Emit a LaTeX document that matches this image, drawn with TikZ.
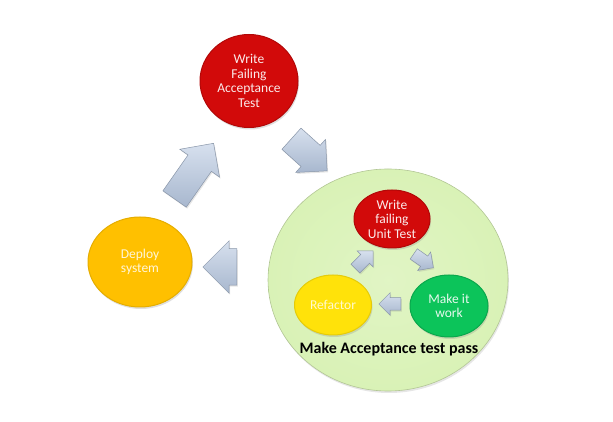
\documentclass[tikz,border=0pt]{standalone}
\usepackage{fontspec}
\setmainfont{Carlito}
\usetikzlibrary{shapes.geometric,shapes.arrows,shadows}

\definecolor{cRed}{HTML}{D20A0A}
\definecolor{cGold}{HTML}{FFC000}
\definecolor{cYellow}{HTML}{FFE20A}
\definecolor{cGreen}{HTML}{0CC45A}
\definecolor{cPale}{HTML}{D9F2B6}
\definecolor{cArrow}{HTML}{B6C7E0}

% shaft thickness of a block arrow is set by an invisible strut
\newcommand{\shaft}[1]{\rule{0pt}{#1pt}}

\tikzset{
  bubble/.style={ellipse, inner sep=0pt, align=center, font=\fontsize{13.5}{14.5}\selectfont,
    text=white, drop shadow={opacity=0.25, shadow xshift=1pt, shadow yshift=-2pt}},
  redbub/.style={bubble, fill=cRed, draw=cRed!85!black, line width=1pt, text=white!92!cRed},
  goldbub/.style={bubble, fill=cGold, draw=cGold!90!black, line width=1pt, text=white!85!cGold},
  yelbub/.style={bubble, fill=cYellow, draw=cYellow!90!black, line width=1pt, text=white!80!cYellow},
  grnbub/.style={bubble, fill=cGreen, draw=cGreen!85!black, line width=1pt, text=white!90!cGreen},
  blockarrow/.style={single arrow, inner sep=0pt, draw=cArrow!75!black, line width=0.5pt,
    top color=cArrow!55!white, bottom color=cArrow!92!black, shading angle=0,
    drop shadow={opacity=0.2, shadow xshift=1pt, shadow yshift=-1.5pt}},
}

\begin{document}
\begin{tikzpicture}[x=1pt,y=1pt]
  \useasboundingbox (0,0) rectangle (613,422);

  % outer cycle
  \node[redbub, minimum width=98, minimum height=93] (accept) at (249,341)
    {Write\\Failing\\Acceptance\\Test};
  \node[goldbub, minimum width=104, minimum height=90] (deploy) at (140,160)
    {Deploy\\system};
  \node[ellipse, minimum width=240, minimum height=222, inner sep=0pt,
    inner color=cPale!80!white, outer color=cPale, draw=cPale!82!black, line width=0.6pt,
    drop shadow={opacity=0.2, shadow xshift=1pt, shadow yshift=-2pt}] (pass) at (388,142) {};

  % inner cycle
  \node[redbub, minimum width=76, minimum height=58] (unit) at (392,203)
    {Write\\failing\\Unit Test};
  \node[yelbub, minimum width=77, minimum height=60] (refactor) at (333,117) {Refactor};
  \node[grnbub, minimum width=78, minimum height=62] (work) at (449,116) {Make it\\work};
  \node[font=\fontsize{16}{18}\selectfont\bfseries, text=black] (passlabel) at (389,73)
    {Make Acceptance test pass};

  % big block arrows of the outer cycle
  \node[blockarrow, minimum height=68, single arrow head extend=10,
    rotate=55] (a1) at (190,245) {\shaft{28}};
  \node[blockarrow, minimum height=48, single arrow head extend=8,
    rotate=-42] (a2) at (304,272) {\shaft{28}};
  \node[blockarrow, minimum height=34, single arrow head extend=8,
    rotate=180] (a3) at (229,155) {\shaft{36}};

  % small block arrows of the inner cycle
  \node[blockarrow, minimum height=25, single arrow head extend=5,
    rotate=45] (b1) at (362,160) {\shaft{12}};
  \node[blockarrow, minimum height=24, single arrow head extend=5,
    rotate=-35] (b2) at (421,163) {\shaft{12}};
  \node[blockarrow, minimum height=22, single arrow head extend=5,
    rotate=180] (b3) at (393,118) {\shaft{12}};
\end{tikzpicture}
\end{document}
